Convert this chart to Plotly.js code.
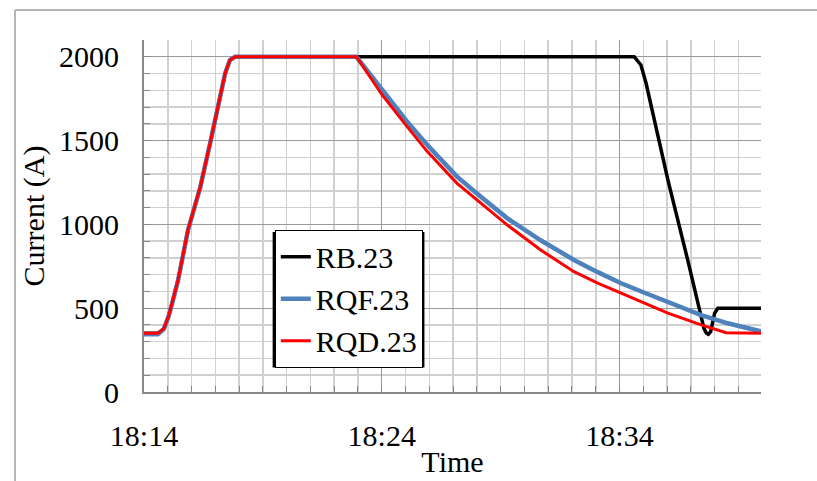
<!DOCTYPE html>
<html>
<head>
<meta charset="utf-8">
<script src="https://cdn.plot.ly/plotly-3.0.1.min.js"></script>
<style>
  html, body { margin: 0; padding: 0; background: #ffffff; overflow: hidden; }
  #chart { position: absolute; left: 0; top: 0; width: 817px; height: 481px; }
</style>
</head>
<body>
<div id="chart"></div>
<script>
// ---- data ----
const seriesNames = ["RB.23", "RQF.23", "RQD.23"];

const rbTime = ["18:14:00","18:14:35","18:14:50","18:15:02","18:15:13","18:15:26","18:15:51","18:16:22","18:16:47","18:17:07","18:17:25","18:17:37","18:17:50",
                "18:34:37","18:34:54","18:35:07","18:36:02","18:36:52","18:37:22","18:37:33","18:37:39","18:37:44","18:37:50","18:37:55","18:38:00","18:38:08","18:40:00"];
const rbCurrent = [350,350,378,452,549,668,967,1223,1486,1700,1903,1981,2000,
                   2000,1951,1842,1265,788,489,380,352,345,360,420,470,500,500];

const rqfTime = ["18:14:00","18:14:35","18:14:50","18:15:02","18:15:13","18:15:26","18:15:51","18:16:22","18:16:47","18:17:07","18:17:25","18:17:37","18:17:50",
                 "18:22:56","18:24:01","18:25:04","18:25:55","18:27:10","18:28:10","18:29:17","18:30:41","18:32:05","18:33:05","18:34:04","18:35:03","18:36:02","18:37:26","18:38:33","18:40:00"];
const rqfCurrent = [345,345,375,450,547,666,965,1221,1486,1700,1903,1981,2000,
                    2000,1802,1613,1474,1285,1165,1036,905,788,715,649,592,539,459,410,360];

const rqdTime = ["18:14:00","18:14:35","18:14:50","18:15:02","18:15:13","18:15:26","18:15:51","18:16:22","18:16:47","18:17:07","18:17:25","18:17:37","18:17:50",
                 "18:22:56","18:24:01","18:25:04","18:25:55","18:27:10","18:28:10","18:29:17","18:30:41","18:32:05","18:33:05","18:34:04","18:35:03","18:36:02","18:37:26","18:38:29","18:40:00"];
const rqdCurrent = [350,350,378,452,549,668,967,1223,1486,1700,1903,1981,2000,
                    2000,1772,1583,1434,1245,1126,996,847,718,650,589,527,470,400,354,350];

const xTickStart = "18:14:00";
const xRangeEnd = "18:39:57";
const yMax = 2100;

// ---- build ----
const day = "2024-01-01 ";
const toDate = arr => arr.map(t => day + t);
const font = "Liberation Serif, Times New Roman, serif";

const traces = [
  { x: toDate(rbTime),  y: rbCurrent,  name: seriesNames[0], mode: "lines", line: { color: "#000000", width: 3.5 } },
  { x: toDate(rqfTime), y: rqfCurrent, name: seriesNames[1], mode: "lines", line: { color: "#4f81bd", width: 4.5 } },
  { x: toDate(rqdTime), y: rqdCurrent, name: seriesNames[2], mode: "lines", line: { color: "#ff0000", width: 3 } }
];

const layout = {
  width: 817, height: 481,
  margin: { l: 144, r: 56, t: 40, b: 89 },
  paper_bgcolor: "#ffffff",
  plot_bgcolor: "#ffffff",
  font: { family: font, size: 30, color: "#000000" },
  showlegend: true,
  legend: {
    x: 0.212, y: 0.461, xanchor: "left", yanchor: "top",
    bgcolor: "#ffffff", bordercolor: "#000000", borderwidth: 1,
    font: { family: font, size: 30, color: "#000000" },
    tracegroupgap: 0
  },
  xaxis: {
    type: "date",
    range: [day + xTickStart, day + xRangeEnd],
    tick0: day + xTickStart, dtick: 600000,
    tickformat: "%H:%M",
    showline: true, linecolor: "#888888", linewidth: 2,
    showgrid: true, gridcolor: "#9a9a9a", gridwidth: 1,
    ticks: "inside", ticklen: 6, tickcolor: "#888888",
    ticklabelstandoff: 16,
    minor: { dtick: 60000, tick0: day + xTickStart, showgrid: true, gridcolor: "#d0d0d0", gridwidth: 1.5,
             ticks: "inside", ticklen: 6, tickcolor: "#888888" },
    zeroline: false,
    title: { text: "Time", font: { family: font, size: 30 }, standoff: 0 }
  },
  yaxis: {
    range: [0, yMax],
    tick0: 0, dtick: 500,
    showline: true, linecolor: "#888888", linewidth: 2,
    showgrid: true, gridcolor: "#9a9a9a", gridwidth: 1,
    ticks: "inside", ticklen: 6, tickcolor: "#888888",
    ticklabelstandoff: 17,
    minor: { dtick: 100, showgrid: true, gridcolor: "#d0d0d0", gridwidth: 1.5,
             ticks: "inside", ticklen: 6, tickcolor: "#888888" },
    zeroline: false,
    title: { text: "Current (A)", font: { family: font, size: 30 }, standoff: 6 }
  },
  shapes: [
    // legend shadow
    { type: "rect", xref: "paper", yref: "paper", layer: "above",
      x0: 0.2085, x1: 0.4545, y0: 0.0696, y1: 0.4545,
      fillcolor: "#000000", line: { width: 0 } },
    // outer chart frame (top and left edges)
    { type: "line", xref: "paper", yref: "paper", layer: "below",
      x0: -0.2091, x1: 1.1, y0: 1.0852, y1: 1.0852, line: { color: "#b4b4b4", width: 2 } },
    { type: "line", xref: "paper", yref: "paper", layer: "below",
      x0: -0.2091, x1: -0.2091, y0: 1.0852, y1: -0.3, line: { color: "#b4b4b4", width: 2 } }
  ]
};

Plotly.newPlot("chart", traces, layout, { displayModeBar: false, staticPlot: true });
</script>
</body>
</html>
